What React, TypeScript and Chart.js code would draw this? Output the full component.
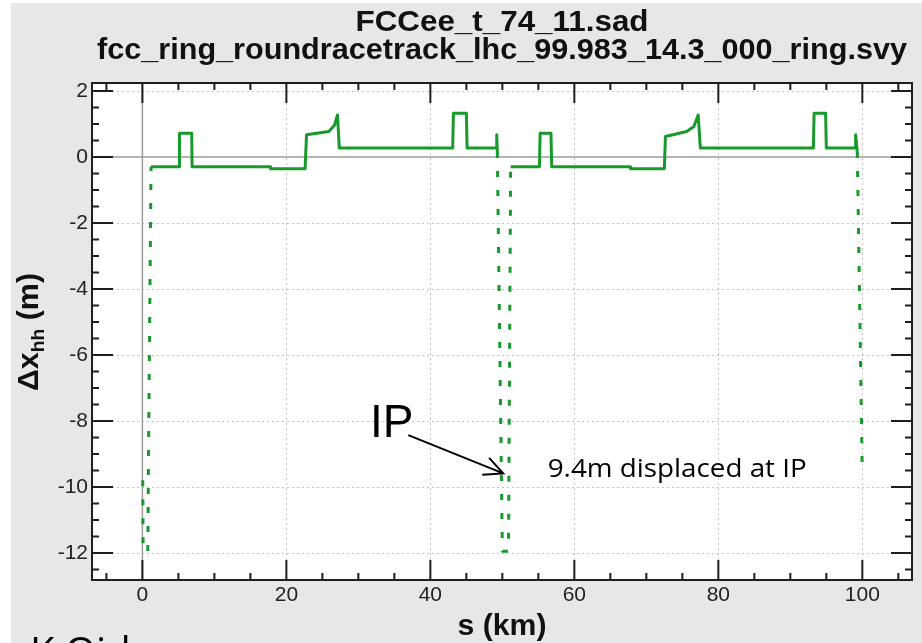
import React, { useEffect, useRef } from "react";
import { Chart, registerables } from "chart.js";

Chart.register(...registerables);

// ---- text ----
const titleLines = ["FCCee_t_74_11.sad", "fcc_ring_roundracetrack_lhc_99.983_14.3_000_ring.svy"];
const xAxisTitle = "s (km)";
const yAxisTitleMain = "Δx";
const yAxisTitleSub = "hh";
const yAxisTitleUnit = " (m)";
const authorText = "K.Oide";
const ipLabel = "IP";
const ipNote = "9.4m displaced at IP";

// ---- axes ----
const xTickValues = [0, 20, 40, 60, 80, 100];
const yTickValues = [-12, -10, -8, -6, -4, -2, 0, 2];
const xMinorTicks = [-5, 5, 10, 15, 25, 30, 35, 45, 50, 55, 65, 70, 75, 85, 90, 95, 105];
const yMinorTicks = [-12.5, -11.5, -11, -10.5, -9.5, -9, -8.5, -7.5, -7, -6.5, -5.5, -5, -4.5, -3.5, -3, -2.5, -1.5, -1, -0.5, 0.5, 1, 1.5];

// ---- data: s (km) and horizontal displacement (m) ----
const sKm = [
  0.05, 0.1, 0.75, 0.85, 1.2,
  5.1, 5.15, 6.85, 6.9,
  17.8, 17.8, 22.6, 22.8, 25.9, 26.7, 27.1, 27.35,
  43.1, 43.2, 45.0, 45.1,
  49.2, 49.22, 49.3, 50.0, 50.85, 51.15,
  55.15, 55.25, 56.75, 56.85,
  67.8, 67.8, 72.5, 72.65, 75.6, 76.6, 77.2, 77.5,
  93.2, 93.3, 94.9, 95.0,
  99.05, 99.07, 99.3, 99.98,
];
const dxM = [
  -9.8, -11.95, -11.95, -9.0, -0.3,
  -0.3, 0.72, 0.72, -0.3,
  -0.3, -0.36, -0.36, 0.67, 0.77, 0.97, 1.27, 0.27,
  0.27, 1.32, 1.32, 0.27,
  0.27, 0.67, 0.15, -11.95, -11.95, -0.3,
  -0.3, 0.72, 0.72, -0.3,
  -0.3, -0.36, -0.36, 0.62, 0.77, 0.92, 1.27, 0.27,
  0.27, 1.32, 1.32, 0.27,
  0.27, 0.67, 0.15, -9.4,
];

const GREEN = "#179a2b";
const SANS = '"Liberation Sans", Arial, sans-serif';

function drawFit(ctx: CanvasRenderingContext2D, text: string, cx: number, baseline: number, font: string, width: number) {
  ctx.save();
  ctx.font = font;
  const w = ctx.measureText(text).width;
  const k = width / w;
  ctx.translate(cx, baseline);
  ctx.scale(k, 1);
  ctx.textAlign = "center";
  ctx.textBaseline = "alphabetic";
  ctx.fillText(text, 0, 0);
  ctx.restore();
}

const decor = {
  id: "decor",
  beforeDraw(chart: any) {
    const ctx: CanvasRenderingContext2D = chart.ctx;
    const { left, right, top, bottom } = chart.chartArea;
    const xs = chart.scales.x;
    const ys = chart.scales.y;
    ctx.save();
    ctx.fillStyle = "#ffffff";
    ctx.fillRect(0, 0, chart.width, chart.height);
    ctx.fillStyle = "#e7e7e7";
    ctx.fillRect(11, 3, chart.width - 11, chart.height - 3);
    ctx.fillStyle = "#ffffff";
    ctx.fillRect(left, top, right - left, bottom - top);
    // dotted grid
    ctx.strokeStyle = "#c4c4c4";
    ctx.lineWidth = 1;
    ctx.setLineDash([2, 3]);
    for (const v of xTickValues) {
      if (v === 0) continue;
      const px = Math.round(xs.getPixelForValue(v)) + 0.5;
      ctx.beginPath();
      ctx.moveTo(px, top);
      ctx.lineTo(px, bottom);
      ctx.stroke();
    }
    for (const v of yTickValues) {
      if (v === 0) continue;
      const py = Math.round(ys.getPixelForValue(v)) + 0.5;
      ctx.beginPath();
      ctx.moveTo(left, py);
      ctx.lineTo(right, py);
      ctx.stroke();
    }
    ctx.setLineDash([]);
    // zero lines
    ctx.strokeStyle = "#9c9c9c";
    ctx.lineWidth = 1.5;
    const x0 = xs.getPixelForValue(0);
    const y0 = ys.getPixelForValue(0);
    ctx.beginPath();
    ctx.moveTo(x0, top);
    ctx.lineTo(x0, bottom);
    ctx.moveTo(left, y0);
    ctx.lineTo(right, y0);
    ctx.stroke();
    ctx.restore();
  },
  afterDraw(chart: any) {
    const ctx: CanvasRenderingContext2D = chart.ctx;
    const { left, right, top, bottom } = chart.chartArea;
    const xs = chart.scales.x;
    const ys = chart.scales.y;
    ctx.save();
    // frame
    ctx.strokeStyle = "#1e1e1e";
    ctx.lineWidth = 2;
    ctx.strokeRect(left, top, right - left, bottom - top);
    // inward ticks
    ctx.lineWidth = 2;
    ctx.beginPath();
    const vt = (v: number, len: number) => {
      const px = xs.getPixelForValue(v);
      ctx.moveTo(px, bottom);
      ctx.lineTo(px, bottom - len);
      ctx.moveTo(px, top);
      ctx.lineTo(px, top + len);
    };
    const ht = (v: number, len: number) => {
      const py = ys.getPixelForValue(v);
      ctx.moveTo(left, py);
      ctx.lineTo(left + len, py);
      ctx.moveTo(right, py);
      ctx.lineTo(right - len, py);
    };
    xTickValues.forEach((v) => vt(v, 20));
    xMinorTicks.forEach((v) => vt(v, 7));
    yTickValues.forEach((v) => ht(v, 21));
    yMinorTicks.forEach((v) => ht(v, 7));
    ctx.stroke();

    // titles
    ctx.fillStyle = "#111";
    const cx = (left + right) / 2;
    drawFit(ctx, titleLines[0], cx, 31, `bold 30px ${SANS}`, 293);
    drawFit(ctx, titleLines[1], cx, 59, `bold 30px ${SANS}`, 810);
    drawFit(ctx, xAxisTitle, cx, 635, `bold 29px ${SANS}`, 89);

    // y title (rotated, with subscript)
    ctx.save();
    ctx.translate(38, 332);
    ctx.rotate(-Math.PI / 2);
    const fMain = `bold 30px ${SANS}`;
    const fSub = `bold 19px ${SANS}`;
    ctx.font = fMain;
    const w1 = ctx.measureText(yAxisTitleMain).width;
    const w3 = ctx.measureText(yAxisTitleUnit).width;
    ctx.font = fSub;
    const w2 = ctx.measureText(yAxisTitleSub).width;
    const total = w1 + w2 + w3;
    const k = 118 / total;
    ctx.scale(k, 1);
    let x = -total / 2;
    ctx.textAlign = "left";
    ctx.textBaseline = "alphabetic";
    ctx.font = fMain;
    ctx.fillText(yAxisTitleMain, x, 0);
    x += w1;
    ctx.font = fSub;
    ctx.fillText(yAxisTitleSub, x, 6);
    x += w2;
    ctx.font = fMain;
    ctx.fillText(yAxisTitleUnit, x, 0);
    ctx.restore();

    // annotations
    ctx.fillStyle = "#000";
    ctx.font = `46px ${SANS}`;
    ctx.textAlign = "left";
    ctx.textBaseline = "alphabetic";
    ctx.fillText(ipLabel, xs.getPixelForValue(31.6), ys.getPixelForValue(-8.48));
    ctx.font = `25px "Open Sans", ${SANS}`;
    {
      const w = ctx.measureText(ipNote).width;
      ctx.save();
      ctx.translate(xs.getPixelForValue(56.3), ys.getPixelForValue(-9.7));
      ctx.scale(259 / w, 1);
      ctx.fillText(ipNote, 0, 0);
      ctx.restore();
    }
    // arrow
    const ax0 = xs.getPixelForValue(36.93), ay0 = ys.getPixelForValue(-8.43);
    const ax1 = xs.getPixelForValue(50.12), ay1 = ys.getPixelForValue(-9.59);
    const ang = Math.atan2(ay1 - ay0, ax1 - ax0);
    ctx.strokeStyle = "#000";
    ctx.lineWidth = 2;
    ctx.beginPath();
    ctx.moveTo(ax0, ay0);
    ctx.lineTo(ax1, ay1);
    const hl = 21, ha = 0.45;
    ctx.moveTo(ax1 - hl * Math.cos(ang - ha), ay1 - hl * Math.sin(ang - ha));
    ctx.lineTo(ax1, ay1);
    ctx.lineTo(ax1 - hl * Math.cos(ang + ha), ay1 - hl * Math.sin(ang + ha));
    ctx.stroke();

    // author (cut by bottom edge)
    ctx.font = `40px "Open Sans", ${SANS}`;
    ctx.fillStyle = "#000";
    ctx.fillText(authorText, 30, 666);
    ctx.restore();
  },
};

export default function App() {
  const ref = useRef<HTMLCanvasElement>(null);
  useEffect(() => {
    const canvas = ref.current!;
    const chart = new Chart(canvas, {
      type: "line",
      data: {
        datasets: [
          {
            data: sKm.map((s, i) => ({ x: s, y: dxM[i] })),
            borderColor: GREEN,
            backgroundColor: GREEN,
            borderWidth: 3,
            borderJoinStyle: "round",
            pointRadius: 0,
            tension: 0,
            fill: false,
            segment: {
              borderDash: (c: any) =>
                c.p0.parsed.y < -0.5 || c.p1.parsed.y < -0.5 ? [6, 13] : undefined,
            },
          } as any,
        ],
      },
      options: {
        animation: false,
        responsive: false,
        devicePixelRatio: 1,
        events: [],
        layout: { padding: { top: 83, right: 10, left: 0, bottom: 0 } },
        plugins: { legend: { display: false }, title: { display: false }, tooltip: { enabled: false } },
        scales: {
          x: {
            type: "linear",
            min: -7,
            max: 106.9,
            grid: { display: false, drawTicks: false },
            border: { display: false },
            ticks: { font: { family: SANS, size: 21 }, color: "#222", padding: 3, maxRotation: 0 },
            afterBuildTicks: (s: any) => {
              s.ticks = xTickValues.map((v) => ({ value: v }));
            },
            afterFit: (s: any) => {
              s.height = 63;
            },
          },
          y: {
            type: "linear",
            min: -12.82,
            max: 2.24,
            grid: { display: false, drawTicks: false },
            border: { display: false },
            ticks: { font: { family: SANS, size: 21 }, color: "#222", padding: 4 },
            afterBuildTicks: (s: any) => {
              s.ticks = yTickValues.map((v) => ({ value: v }));
            },
            afterFit: (s: any) => {
              s.width = 92;
            },
          },
        },
      },
      plugins: [decor],
    });
    return () => chart.destroy();
  }, []);
  return (
    <div style={{ position: "fixed", left: 0, top: 0, width: 922, height: 643, overflow: "hidden", background: "#fff" }}>
      <canvas ref={ref} width={922} height={643} style={{ display: "block", width: 922, height: 643 }} />
    </div>
  );
}
